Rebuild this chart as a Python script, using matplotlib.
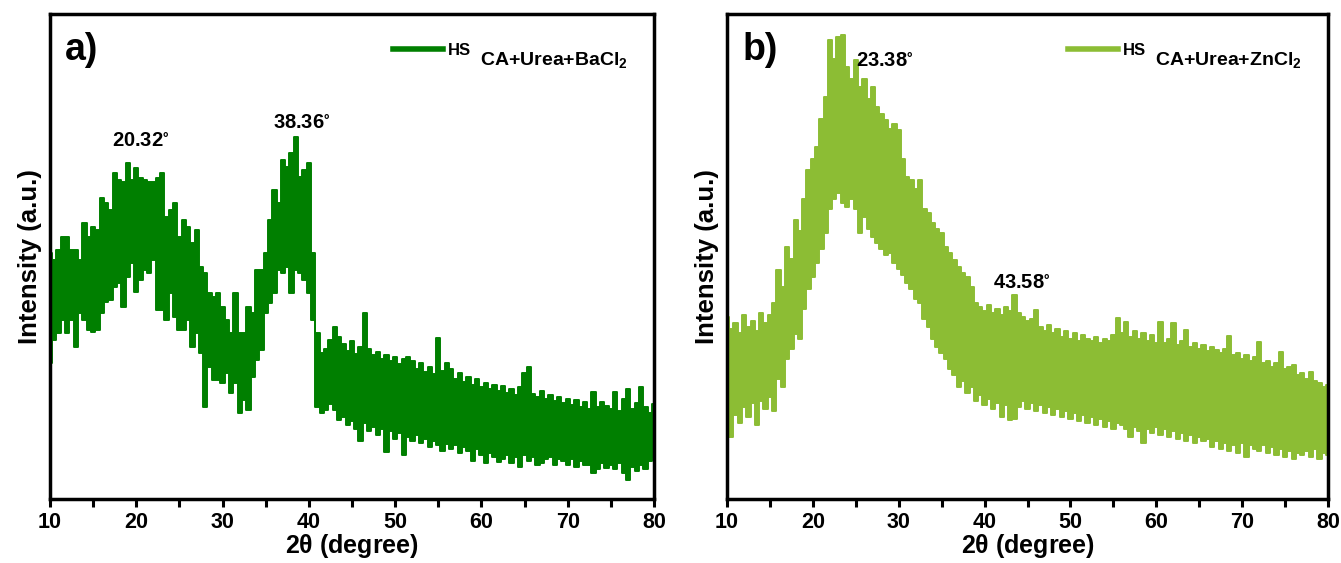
import numpy as np
import matplotlib
matplotlib.use('Agg')
from matplotlib import pyplot as plt

plt.rcParams['font.family'] = ['Liberation Sans', 'DejaVu Sans']
plt.rcParams['font.weight'] = 'bold'
plt.rcParams['mathtext.default'] = 'regular'

two_theta = np.arange(10, 80.01, 0.5)

# upper / lower edge of the noisy band (a.u.)
top_ba = [246, 239, 249, 262, 262, 249, 249, 239, 276, 262,
          272, 269, 301, 296, 289, 326, 319, 317, 336, 319,
          331, 321, 319, 317, 317, 321, 326, 282, 289, 296,
          262, 279, 272, 256, 269, 232, 226, 206, 202, 206,
          192, 179, 166, 206, 166, 166, 192, 186, 229, 229,
          246, 279, 309, 296, 339, 332, 346, 362, 322, 329,
          336, 246, 166, 146, 150, 159, 172, 162, 155, 148,
          158, 145, 152, 186, 150, 144, 147, 140, 144, 138,
          142, 135, 140, 142, 138, 130, 136, 127, 132, 125,
          161, 128, 136, 130, 120, 126, 117, 122, 114, 120,
          112, 116, 110, 114, 108, 113, 106, 110, 104, 112,
          126, 132, 105, 102, 108, 100, 104, 98, 102, 96,
          100, 94, 99, 92, 97, 90, 107, 92, 97, 93,
          90, 107, 88, 100, 110, 90, 96, 112, 92, 86,
          95]
low_ba = [136, 159, 166, 179, 166, 179, 152, 186, 179, 169,
          167, 169, 186, 197, 199, 212, 216, 192, 222, 236,
          207, 219, 229, 226, 239, 189, 189, 179, 206, 182,
          169, 169, 179, 152, 166, 146, 92, 132, 119, 119,
          116, 126, 106, 116, 86, 99, 89, 122, 139, 149,
          186, 196, 206, 229, 226, 232, 206, 229, 226, 219,
          206, 179, 92, 86, 89, 95, 89, 79, 82, 74,
          78, 70, 58, 76, 68, 72, 64, 70, 47, 68,
          60, 66, 44, 62, 58, 64, 56, 60, 52, 58,
          54, 48, 55, 50, 54, 46, 52, 48, 38, 50,
          44, 36, 46, 42, 37, 40, 44, 36, 42, 32,
          44, 38, 42, 34, 36, 40, 42, 34, 40, 38,
          34, 40, 32, 38, 34, 34, 26, 30, 36, 31,
          34, 30, 36, 26, 19, 32, 28, 34, 30, 38,
          42]

top_zn = [182, 170, 176, 166, 184, 172, 178, 168, 186, 176,
          184, 196, 229, 212, 252, 240, 279, 268, 300, 329,
          340, 352, 380, 402, 459, 440, 462, 464, 432, 420,
          439, 412, 420, 400, 412, 392, 385, 379, 370, 375,
          369, 340, 322, 319, 310, 319, 290, 286, 276, 270,
          266, 252, 246, 239, 232, 226, 222, 212, 196, 192,
          188, 194, 186, 190, 184, 192, 188, 204, 186, 182,
          178, 180, 189, 172, 168, 174, 166, 170, 162, 168,
          160, 166, 158, 164, 160, 158, 162, 156, 160, 158,
          164, 181, 166, 177, 162, 168, 160, 166, 158, 164,
          156, 177, 156, 160, 176, 154, 158, 169, 152, 156,
          150, 154, 148, 152, 149, 146, 150, 163, 144, 146,
          140, 144, 138, 142, 157, 136, 138, 132, 136, 147,
          130, 132, 134, 124, 126, 120, 127, 118, 116, 112,
          114]
low_zn = [90, 62, 84, 76, 92, 82, 96, 74, 98, 90,
          102, 88, 120, 112, 140, 150, 165, 160, 190, 210,
          222, 236, 250, 266, 290, 300, 306, 296, 292, 300,
          290, 266, 282, 270, 262, 256, 250, 244, 246, 236,
          230, 224, 216, 210, 200, 196, 180, 172, 160, 152,
          146, 140, 130, 124, 112, 118, 106, 112, 98, 104,
          94, 100, 90, 96, 82, 94, 79, 80, 92, 98,
          90, 96, 88, 94, 86, 92, 84, 90, 82, 88,
          80, 86, 78, 84, 76, 82, 74, 80, 72, 78,
          70, 76, 74, 70, 62, 72, 68, 56, 70, 66,
          72, 64, 70, 62, 68, 60, 66, 58, 64, 56,
          62, 58, 60, 52, 58, 50, 56, 48, 54, 46,
          56, 42, 54, 50, 48, 54, 46, 52, 44, 50,
          42, 48, 40, 46, 44, 48, 42, 50, 40, 46,
          44]

peaks_ba = [(20.32, 359), (38.36, 376)]
peaks_zn = [(23.38, 439), (43.58, 216)]
peak_text_x_ba = [20.5, 39.2]
peak_text_x_zn = [28.4, 44.3]

green_ba = '#007f00'
green_zn = '#8cbd34'


def draw_panel(ax, top, low, color, letter, sample, peaks, text_x):
    ax.fill_between(two_theta, low, top, step='mid', color=color, lw=0)
    ax.plot(two_theta, top, drawstyle='steps-mid', color=color, lw=1.4, solid_capstyle='round')
    ax.plot(two_theta, low, drawstyle='steps-mid', color=color, lw=1.4, solid_capstyle='round')

    ax.set_xlim(10, 80)
    ax.set_ylim(0, 485)
    ax.set_xticks(np.arange(10, 81, 10))
    ax.set_xticks(np.arange(15, 80, 10), minor=True)
    ax.set_yticks([])
    ax.tick_params(axis='x', which='both', direction='out', length=6, width=2.2, labelsize=15.5, pad=3)
    for lab in ax.get_xticklabels():
        lab.set_fontweight('bold')
    for sp in ax.spines.values():
        sp.set_linewidth(2.5)

    ax.set_xlabel(r'2$\theta$ (degree)', fontsize=18, fontweight='bold', labelpad=0)
    ax.set_ylabel('Intensity (a.u.)', fontsize=18.5, fontweight='bold', labelpad=6)

    ax.text(0.025, 0.925, letter, transform=ax.transAxes, fontsize=27, fontweight='bold', va='center', ha='left')

    ax.plot([0.568, 0.651], [0.928, 0.928], transform=ax.transAxes, color=color, lw=4)
    ax.text(0.659, 0.915, 'HS', transform=ax.transAxes, fontsize=12, fontweight='bold',
            va='baseline', ha='left')
    ax.text(0.712, 0.895, 'CA+Urea+' + sample + '$_2$', transform=ax.transAxes, fontsize=14,
            fontweight='bold', va='baseline', ha='left')

    for (pos, h), tx in zip(peaks, text_x):
        ax.text(tx, h, f'{pos:.2f}' + r'$^{\circ}$', fontsize=14.5, fontweight='bold', ha='center', va='center')


fig = plt.figure(figsize=(13.41, 5.63), dpi=100)
ax_a = fig.add_axes([50 / 1341, 64 / 563, 604 / 1341, 485 / 563])
ax_b = fig.add_axes([727 / 1341, 64 / 563, 601 / 1341, 485 / 563])

draw_panel(ax_a, top_ba, low_ba, green_ba, 'a)', 'BaCl', peaks_ba, peak_text_x_ba)
draw_panel(ax_b, top_zn, low_zn, green_zn, 'b)', 'ZnCl', peaks_zn, peak_text_x_zn)

fig.savefig('out.png', dpi=100)
